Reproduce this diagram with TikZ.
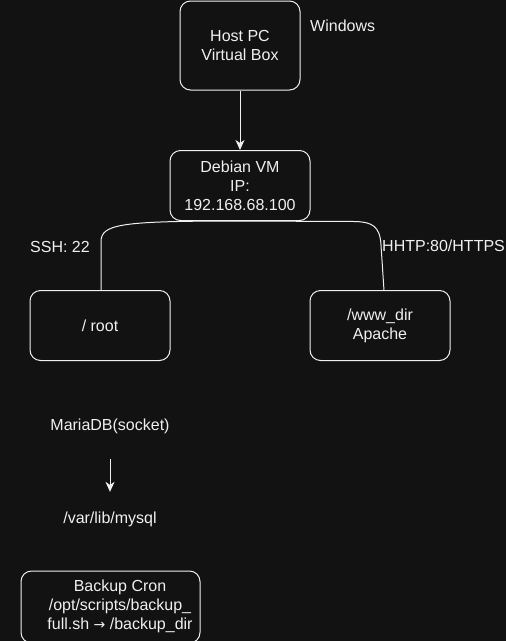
\documentclass[tikz,border=0pt]{standalone}
\usepackage{fontspec}
\setmainfont{Liberation Sans}
\usetikzlibrary{arrows.meta}
\definecolor{bg}{RGB}{18,18,18}
\definecolor{fg}{RGB}{240,240,240}
\begin{document}
\begin{tikzpicture}[x=1pt,y=-1pt,
  box/.style={draw=fg, line width=1pt, rounded corners=10.5pt, inner sep=0pt,
    text=fg, align=center, font=\fontsize{16}{19}\selectfont},
  lbl/.style={text=fg, inner sep=0pt, align=center, font=\fontsize{16}{19}\selectfont},
  conn/.style={draw=fg, line width=1pt},
  arr/.style={conn, -{Stealth[length=10pt,width=9pt,inset=3pt]}}
]
\fill[bg] (0,0) rectangle (506,641);
\useasboundingbox (0,0) rectangle (506,641);

\node[box, minimum width=120pt, minimum height=89pt] (host) at (240,45.5) {Host PC\\Virtual Box};
\node[lbl, anchor=west] (win) at (310,26) {Windows};
\node[box, minimum width=140pt, minimum height=70pt] (deb) at (240,185.5) {Debian VM\\IP:\\192.168.68.100};
\node[box, minimum width=140pt, minimum height=70pt] (root) at (100,325.5) {/ root};
\node[box, minimum width=140pt, minimum height=70pt] (www) at (380,325.5) {/www\_dir\\Apache};
\node[lbl] (ssh) at (60,247) {SSH: 22};
\node[lbl, anchor=west] (http) at (382,246) {HHTP:80/HTTPS};
\node[lbl] (maria) at (110,426.5) {MariaDB(socket)};
\node[lbl] (mysql) at (110,519.5) {/var/lib/mysql};
\node[box, minimum width=179pt, minimum height=72pt] (backup) at (110.5,607) {};
\node[lbl] (backuptxt) at (120,606.5) {Backup Cron\\/opt/scripts/backup\_\\full.sh {\fontspec{DejaVu Sans}\fontsize{14}{19}\selectfont →} /backup\_dir};

\draw[arr] (host.south) -- (deb.north);
\draw[conn] (deb.south) .. controls (120,221) and (101,224) .. (101,242) -- (root.north -| 101,0);
\draw[conn] (deb.south) -- (355,221.5) .. controls (372,222) and (380,226) .. (381,245) -- (384,290.5);
\draw[arr, shorten <=25pt, shorten >=20pt] (maria.south) -- (mysql.north);
\end{tikzpicture}
\end{document}
